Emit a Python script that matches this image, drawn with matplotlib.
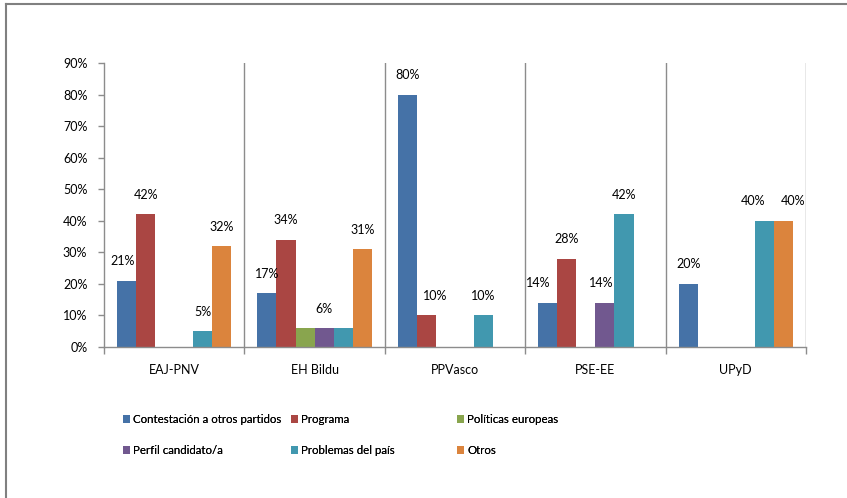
import numpy as np
import matplotlib
matplotlib.use("Agg")
import matplotlib.pyplot as plt
from matplotlib.patches import Patch
from matplotlib.lines import Line2D

plt.rcParams['font.family'] = ['Lato', 'DejaVu Sans']

# data (percent)
parties = ["EAJ-PNV", "EH Bildu", "PPVasco", "PSE-EE", "UPyD"]
series = ["Contestación a otros partidos", "Programa", "Políticas europeas",
          "Perfil candidato/a", "Problemas del país", "Otros"]
contestacion = [21, 17, 80, 14, 20]
programa = [42, 34, 10, 28, 0]
politicas = [0, 6, 0, 0, 0]
perfil = [0, 6, 0, 14, 0]
problemas = [5, 6, 10, 42, 40]
otros = [32, 31, 0, 0, 40]
values = [contestacion, programa, politicas, perfil, problemas, otros]
yticks = [0, 10, 20, 30, 40, 50, 60, 70, 80, 90]

colors = ["#4572A7", "#AA4643", "#89A54E", "#71588F", "#4198AF", "#DB843D"]

# labels hidden in the original (overlapping 6% in EH Bildu)
hidden = {(1, 2), (1, 4)}
# horizontal nudges of labels (points) to mimic the original placement
nudge = {(0, 0): -3, (3, 0): -7, (3, 3): -3, (4, 4): -8, (4, 5): 7, (2, 1): 6}

fs = 9
fig = plt.figure(figsize=(8.47, 4.98), dpi=100)
ax = fig.add_axes([104 / 847, 1 - 347 / 498, 702 / 847, 284 / 498])

w = 19 / 140
x = np.arange(len(parties))
for j, vals in enumerate(values):
    pos = x + (j - 2.5) * w
    vals = np.array(vals)
    mask = vals > 0
    ax.bar(pos[mask], vals[mask], width=w, color=colors[j], align='center', linewidth=0)
    for i in np.where(mask)[0]:
        if (i, j) in hidden:
            continue
        ax.annotate(f"{vals[i]}%", (pos[i], vals[i]),
                    xytext=(nudge.get((i, j), 0), 14), textcoords='offset points',
                    ha='center', va='center', fontsize=fs)

ax.set_xlim(-0.5, len(parties) - 0.5)
ax.set_ylim(0, 90)
ax.set_yticks(yticks)
ax.set_yticklabels([f"{t}%" for t in yticks], fontsize=fs)
ax.set_xticks(x)
ax.set_xticklabels(parties, fontsize=fs)
ax.tick_params(axis='x', length=0, pad=12)
ax.set_xticks(np.arange(len(parties) + 1) - 0.5, minor=True)
ax.tick_params(axis='x', which='minor', length=5, color='#8c8c8c', width=1)
ax.tick_params(axis='y', length=4, color='#8c8c8c', width=1, pad=8)
for b in np.arange(1, len(parties) + 1) - 0.5:
    ax.axvline(b, color='#8c8c8c', linewidth=1, zorder=0)
for s in ['top', 'right']:
    ax.spines[s].set_visible(False)
for s in ['left', 'bottom']:
    ax.spines[s].set_color('#8c8c8c')
    ax.spines[s].set_linewidth(1)

# legend: three columns of two entries each
handles = [Patch(facecolor=c, edgecolor='none') for c in colors]
col_x = [123, 291, 457]
for k in range(3):
    leg = fig.legend([handles[k], handles[k + 3]], [series[k], series[k + 3]],
                     loc='upper left', bbox_to_anchor=(col_x[k] / 847, 1 - 414 / 498),
                     frameon=False, fontsize=8.3, handlelength=0.6, handleheight=0.6,
                     handletextpad=0.3, labelspacing=1.75, borderaxespad=0, borderpad=0)
    fig.add_artist(leg)

# outer frame lines (left and top visible in the reference)
fig.add_artist(Line2D([6 / 847, 6 / 847], [0, 1 - 4 / 498], color='#808080', linewidth=1.5))
fig.add_artist(Line2D([6 / 847, 1], [1 - 4 / 498, 1 - 4 / 498], color='#808080', linewidth=1.5))

fig.savefig("out.png", dpi=100)
